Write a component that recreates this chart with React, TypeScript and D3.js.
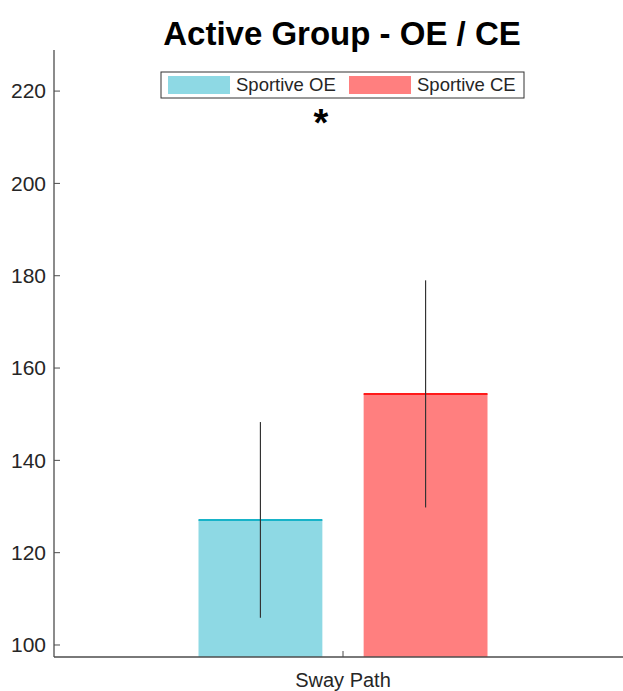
import React, { useRef, useEffect } from "react";
import * as d3 from "d3";

// Data
const categories = ["Sway Path"];
const seriesNames = ["Sportive OE", "Sportive CE"];
const means = [127.1, 154.4];
const errors = [21.2, 24.6];
const yTicks = [100, 120, 140, 160, 180, 200, 220];
const fillColors = ["#8ed9e4", "#ff7f7f"];
const edgeColors = ["#17b3c8", "#ff1a1a"];

const App: React.FC = () => {
  const ref = useRef<SVGSVGElement | null>(null);
  const width = 623;
  const height = 691;

  useEffect(() => {
    if (!ref.current) return;
    const svg = d3.select(ref.current);
    svg.selectAll("*").remove();

    const font = "'Liberation Sans', Arial, Helvetica, sans-serif";
    const axisColor = "#4d4d4d";

    // Plot area
    const left = 54;
    const top = 50;
    const bottom = 657;

    const y = d3.scaleLinear().domain([97.4, 228.9]).range([bottom, top]);
    const x = d3.scaleBand().domain(categories).range([left, 632]).padding(0);

    const xSub = d3
      .scaleBand()
      .domain(seriesNames)
      .range([-144.5, 144.5])
      .paddingInner(0.25)
      .paddingOuter(0);

    const center = (x(categories[0]) ?? 0) + x.bandwidth() / 2;

    const g = svg.append("g");

    // Bars
    seriesNames.forEach((s, i) => {
      const bx = center + (xSub(s) ?? 0);
      const bw = xSub.bandwidth();
      g.append("rect")
        .attr("x", bx)
        .attr("y", y(means[i]))
        .attr("width", bw)
        .attr("height", bottom - y(means[i]))
        .attr("fill", fillColors[i]);
      g.append("line")
        .attr("x1", bx)
        .attr("x2", bx + bw)
        .attr("y1", y(means[i]))
        .attr("y2", y(means[i]))
        .attr("stroke", edgeColors[i])
        .attr("stroke-width", 2);
      // Error bar
      g.append("line")
        .attr("x1", bx + bw / 2)
        .attr("x2", bx + bw / 2)
        .attr("y1", y(means[i] + errors[i]))
        .attr("y2", y(means[i] - errors[i]))
        .attr("stroke", "#333")
        .attr("stroke-width", 1.2);
    });

    // Y axis
    g.append("line")
      .attr("x1", left)
      .attr("x2", left)
      .attr("y1", top)
      .attr("y2", bottom)
      .attr("stroke", axisColor)
      .attr("stroke-width", 1.3);
    yTicks.forEach((t) => {
      g.append("line")
        .attr("x1", left)
        .attr("x2", left + 6)
        .attr("y1", y(t))
        .attr("y2", y(t))
        .attr("stroke", axisColor);
      g.append("text")
        .attr("x", left - 8)
        .attr("y", y(t))
        .attr("dy", "0.35em")
        .attr("text-anchor", "end")
        .attr("font-family", font)
        .attr("font-size", 21)
        .attr("fill", "#262626")
        .text(t);
    });

    // X axis
    g.append("line")
      .attr("x1", left)
      .attr("x2", width)
      .attr("y1", bottom)
      .attr("y2", bottom)
      .attr("stroke", axisColor)
      .attr("stroke-width", 1.3);
    categories.forEach((c) => {
      const cx = (x(c) ?? 0) + x.bandwidth() / 2;
      g.append("line")
        .attr("x1", cx)
        .attr("x2", cx)
        .attr("y1", bottom)
        .attr("y2", bottom - 6)
        .attr("stroke", axisColor);
      g.append("text")
        .attr("x", cx)
        .attr("y", 680)
        .attr("dy", "0.35em")
        .attr("text-anchor", "middle")
        .attr("font-family", font)
        .attr("font-size", 20)
        .attr("fill", "#262626")
        .text(c);
    });

    // Title
    svg
      .append("text")
      .attr("x", 342)
      .attr("y", 33)
      .attr("dy", "0.35em")
      .attr("text-anchor", "middle")
      .attr("font-family", font)
      .attr("font-weight", "bold")
      .attr("font-size", 33)
      .attr("fill", "#000")
      .text("Active Group - OE / CE");

    // Significance marker
    svg
      .append("text")
      .attr("x", 321)
      .attr("y", 136)
      .attr("text-anchor", "middle")
      .attr("font-family", font)
      .attr("font-weight", "bold")
      .attr("font-size", 38)
      .attr("fill", "#000")
      .text("*");

    // Legend
    const legend = svg.append("g").attr("transform", "translate(161,72)");
    legend
      .append("rect")
      .attr("width", 363)
      .attr("height", 26)
      .attr("fill", "#fff")
      .attr("stroke", "#333")
      .attr("stroke-width", 1);
    const itemX = [7, 188];
    seriesNames.forEach((s, i) => {
      legend
        .append("rect")
        .attr("x", itemX[i])
        .attr("y", 4)
        .attr("width", 62)
        .attr("height", 18)
        .attr("fill", fillColors[i]);
      legend
        .append("text")
        .attr("x", itemX[i] + 68)
        .attr("y", 13)
        .attr("dy", "0.35em")
        .attr("font-family", font)
        .attr("font-size", 18.5)
        .attr("fill", "#262626")
        .text(s);
    });
  }, []);

  return (
    <svg
      ref={ref}
      width={width}
      height={height}
      style={{ position: "absolute", left: 0, top: 0, background: "#fff" }}
    />
  );
};

export default App;
